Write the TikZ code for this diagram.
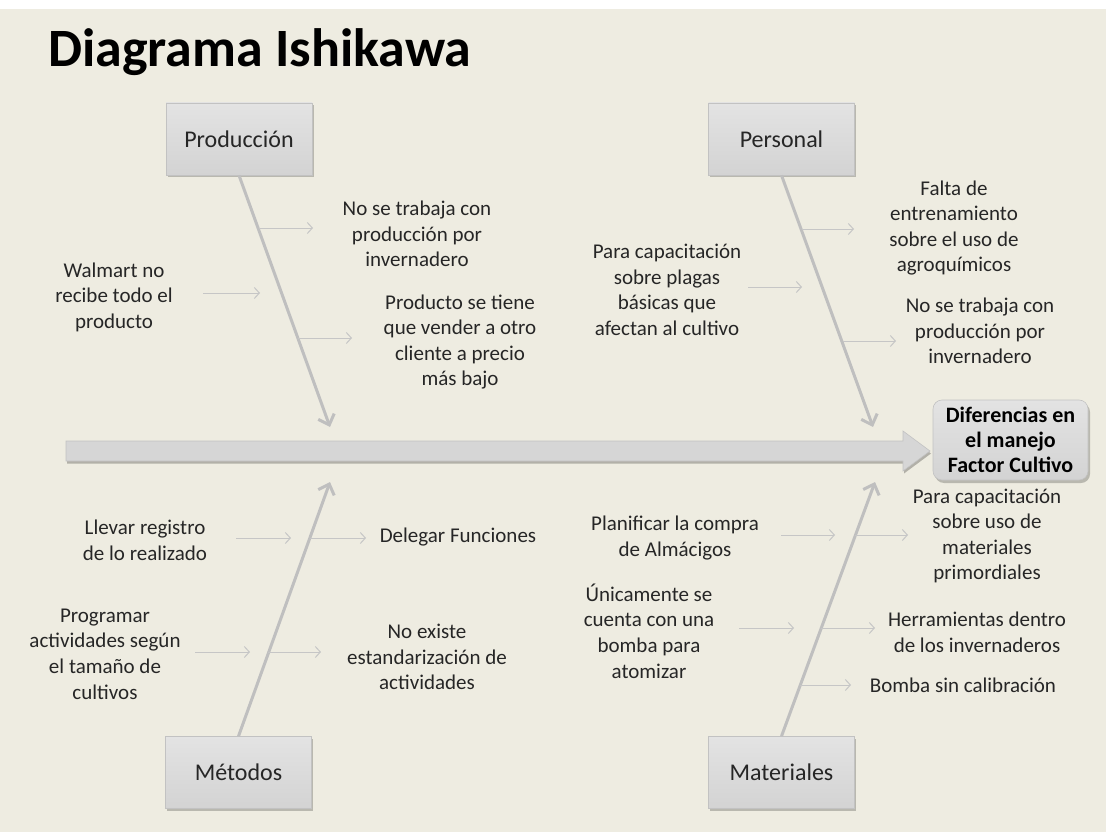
\documentclass[tikz,border=0pt]{standalone}
\usepackage{fontspec}
\setmainfont{Carlito}
\usetikzlibrary{arrows.meta,shadows}
\definecolor{bg}{HTML}{EEECE1}
\definecolor{boxtop}{HTML}{E3E3E3}
\definecolor{boxbot}{HTML}{D3D3D3}
\definecolor{boxline}{HTML}{C2C2C2}
\definecolor{bonecol}{HTML}{BFBFBF}
\definecolor{thincol}{HTML}{C6C6C6}
\definecolor{txt}{HTML}{262626}
\begin{document}
\begin{tikzpicture}[x=1pt,y=-1pt,
  cat/.style={draw=boxline, line width=0.6pt, top color=boxtop, bottom color=boxbot,
    minimum width=146pt, minimum height=72pt, inner sep=0pt,
    font=\fontsize{24}{28}\selectfont, text=txt,
    drop shadow={shadow xshift=1.5pt, shadow yshift=-2.5pt, fill=black, opacity=0.22}},
  headbox/.style={draw=boxline, line width=0.6pt, top color=boxtop, bottom color=boxbot,
    rounded corners=9pt, minimum width=155pt, minimum height=80pt, inner sep=0pt,
    align=center, font=\bfseries\fontsize{22}{25}\selectfont, text=black,
    drop shadow={shadow xshift=2pt, shadow yshift=-3pt, fill=black, opacity=0.22}},
  lab/.style={align=center, font=\fontsize{21}{25.6}\selectfont, text=txt, inner sep=0pt},
  bone/.style={draw=bonecol, line width=3pt, -{Straight Barb[length=9pt,width=17pt]}},
  thin/.style={draw=thincol, line width=1pt, -{Straight Barb[length=5pt,width=11pt]}},
  spine/.style={fill=boxbot!80!boxtop, draw=boxline, line width=0.6pt,
    drop shadow={shadow xshift=1pt, shadow yshift=-2.5pt, fill=black, opacity=0.25}}
]
\useasboundingbox (0,0) rectangle (1106,832);
\fill[white] (0,0) rectangle (1106,832);
\fill[bg] (0,9) rectangle (1106,832);

% title
\node[anchor=base west, inner sep=0pt, font=\bfseries\fontsize{54}{60}\selectfont, text=black] (title) at (48,67) {Diagrama Ishikawa};

% spine
\path[spine] (66,441) coordinate (sp0) -- (903,441) -- (903,431) -- (930,451) coordinate (sptip) -- (903,471) -- (903,461) -- (66,461) -- cycle;

% head
\node[headbox] (head) at (1010.5,440) {Diferencias en\\el manejo\\Factor Cultivo};

% category boxes
\node[cat] (prod) at (239,139) {Producción};
\node[cat] (pers) at (781.5,139) {Personal};
\node[cat] (met) at (238.5,772.5) {Métodos};
\node[cat] (mat) at (781.5,772.5) {Materiales};

% bone tips
\coordinate (tprod) at (330,427);
\coordinate (tpers) at (873,427);
\coordinate (tmet) at (330,482);
\coordinate (tmat) at (875,482);

\draw[bone] (prod.south) -- (tprod);
\draw[bone] (pers.south) -- (tpers);
\draw[bone] (met.north) -- (tmet);
\draw[bone] (mat.north) -- (tmat);

% texts
\node[lab] (t1) at (417,234) {No se trabaja con\\producción por\\invernadero};
\node[lab] (t2) at (114,297) {Walmart no\\recibe todo el\\producto};
\node[lab] (t3) at (460,342) {Producto se tiene\\que vender a otro\\cliente a precio\\más bajo};
\node[lab] (t4) at (954,228) {Falta de\\entrenamiento\\sobre el uso de\\agroquímicos};
\node[lab] (t5) at (667,290) {Para capacitación\\sobre plagas\\básicas que\\afectan al cultivo};
\node[lab] (t6) at (980,331) {No se trabaja con\\producción por\\invernadero};
\node[lab] (t7) at (145,540) {Llevar registro\\de lo realizado};
\node[lab] (t8) at (458,537) {Delegar Funciones};
\node[lab] (t9) at (105,654) {Programar\\actividades según\\el tamaño de\\cultivos};
\node[lab] (t10) at (427,657) {No existe\\estandarización de\\actividades};
\node[lab] (t11) at (675,538) {Planificar la compra\\de Almácigos};
\node[lab] (t12) at (987,536) {Para capacitación\\sobre uso de\\materiales\\primordiales};
\node[lab] (t13) at (649,631) {Únicamente se\\cuenta con una\\bomba para\\atomizar};
\node[lab] (t14) at (977,632) {Herramientas dentro\\de los invernaderos};
\node[lab] (t15) at (963,685) {Bomba sin calibración};

% small arrows
\draw[thin] (259,228) coordinate (a1s) -- (313,228) coordinate (a1e);
\draw[thin] (203,293) coordinate (a2s) -- (260,293) coordinate (a2e);
\draw[thin] (298,338) coordinate (a3s) -- (352,338) coordinate (a3e);
\draw[thin] (802,229) coordinate (a4s) -- (854,229) coordinate (a4e);
\draw[thin] (748,287) coordinate (a5s) -- (802,287) coordinate (a5e);
\draw[thin] (843,341) coordinate (a6s) -- (896,341) coordinate (a6e);
\draw[thin] (236,538) coordinate (a7s) -- (291,538) coordinate (a7e);
\draw[thin] (310,538) coordinate (a8s) -- (366,538) coordinate (a8e);
\draw[thin] (195,652) coordinate (a9s) -- (250,652) coordinate (a9e);
\draw[thin] (268,652) coordinate (a10s) -- (321,652) coordinate (a10e);
\draw[thin] (781,535) coordinate (a11s) -- (835,535) coordinate (a11e);
\draw[thin] (855,535) coordinate (a12s) -- (908,535) coordinate (a12e);
\draw[thin] (739,628) coordinate (a13s) -- (794,628) coordinate (a13e);
\draw[thin] (821,628) coordinate (a14s) -- (875,628) coordinate (a14e);
\draw[thin] (800,685) coordinate (a15s) -- (851,685) coordinate (a15e);
\end{tikzpicture}
\end{document}
